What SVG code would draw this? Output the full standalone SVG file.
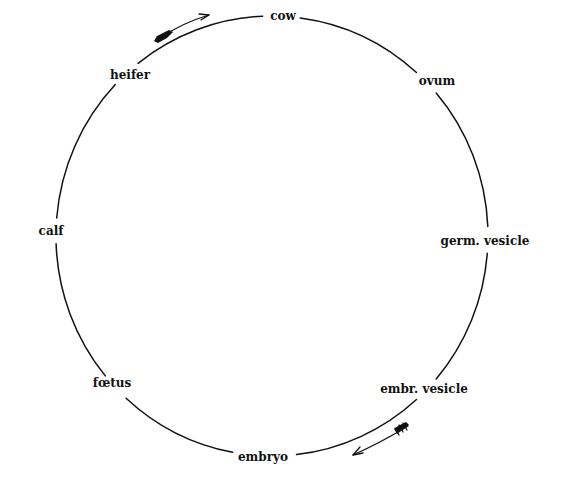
<svg xmlns="http://www.w3.org/2000/svg" width="563" height="480" viewBox="0 0 563 480">
<style>
.lbl{font-family:"DejaVu Serif","Liberation Serif",serif;font-weight:bold;font-size:12px;fill:#111;text-anchor:middle}
.arc{fill:none;stroke:#111;stroke-width:1.5;stroke-linecap:round}
.arr{fill:none;stroke:#111;stroke-width:1.3;stroke-linecap:round;stroke-linejoin:round}
</style>
<rect width="563" height="480" fill="#fff"/>
<g id="connectors">
<path class="arc" d="M300.2,17.9 A216,220 0 0,1 416.5,72.5"/>
<path class="arc" d="M436.2,93.1 A216,220 0 0,1 487.8,226.4"/>
<path class="arc" d="M487.3,253.3 A216,220 0 0,1 436.2,378.9"/>
<path class="arc" d="M416.5,399.5 A216,220 0 0,1 296.5,454.6"/>
<path class="arc" d="M232.6,452.3 A216,220 0 0,1 126.1,398.2"/>
<path class="arc" d="M105.3,375.9 A216,220 0 0,1 56.1,243.7"/>
<path class="arc" d="M56.7,218.0 A216,220 0 0,1 115.3,84.6"/>
<path class="arc" d="M138.1,63.3 A216,220 0 0,1 262.6,16.2"/>
</g>
<g id="arrow-top">
<path class="arr" d="M160,38 Q182,23 209,15"/>
<path class="arr" d="M199,14 L209,15 L201,20"/>
<path d="M154,41 L157,36 L169,30 L173,32 L167,38 L158,43 Z" fill="#111"/>
</g>
<g id="arrow-bottom">
<path class="arr" d="M408,426 Q382,442 353,455"/>
<path class="arr" d="M360,447 L353,455 L363,453"/>
<path d="M394,429 L398,426 L402,424 L406,422 L409,425 L405,428 L401,431 L397,434 Z" fill="#111"/>
<path class="arr" d="M395,428 L399,435 M399,425 L403,432 M403,423 L407,430"/>
</g>
<g id="cow"><text class="lbl" x="283" y="20">cow</text></g>
<g id="ovum"><text class="lbl" x="437" y="85">ovum</text></g>
<g id="germ-vesicle"><text class="lbl" x="485" y="245">germ. vesicle</text></g>
<g id="embr-vesicle"><text class="lbl" x="424" y="393">embr. vesicle</text></g>
<g id="embryo"><text class="lbl" x="263" y="461">embryo</text></g>
<g id="foetus"><text class="lbl" x="112" y="387">fœtus</text></g>
<g id="calf"><text class="lbl" x="51" y="235">calf</text></g>
<g id="heifer"><text class="lbl" x="130" y="79">heifer</text></g>
</svg>
